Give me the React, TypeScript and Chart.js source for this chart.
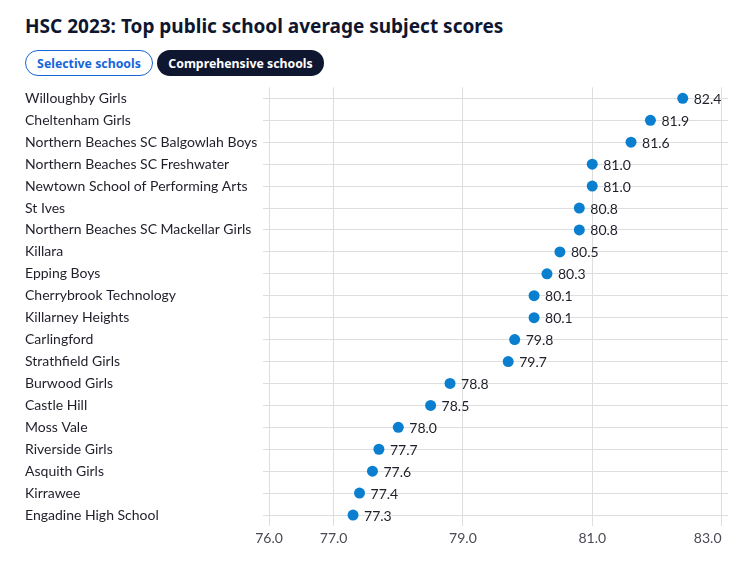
import React, { useEffect, useRef } from "react";
import { Chart, registerables } from "chart.js";

Chart.register(...registerables);

const schools = [
  "Willoughby Girls",
  "Cheltenham Girls",
  "Northern Beaches SC Balgowlah Boys",
  "Northern Beaches SC Freshwater",
  "Newtown School of Performing Arts",
  "St Ives",
  "Northern Beaches SC Mackellar Girls",
  "Killara",
  "Epping Boys",
  "Cherrybrook Technology",
  "Killarney Heights",
  "Carlingford",
  "Strathfield Girls",
  "Burwood Girls",
  "Castle Hill",
  "Moss Vale",
  "Riverside Girls",
  "Asquith Girls",
  "Kirrawee",
  "Engadine High School",
];

const scores = [
  82.4, 81.9, 81.6, 81.0, 81.0, 80.8, 80.8, 80.5, 80.3, 80.1, 80.1, 79.8, 79.7,
  78.8, 78.5, 78.0, 77.7, 77.6, 77.4, 77.3,
];

const xTicks = [76, 77, 79, 81, 83];
const xMin = 76;
const xMax = 83.1;

const LABEL_FONT = "Lato, 'Open Sans', sans-serif";

const valueLabels = {
  id: "valueLabels",
  afterDatasetsDraw(chart: any) {
    const ctx = chart.ctx;
    const meta = chart.getDatasetMeta(0);
    ctx.save();
    ctx.font = `14px ${LABEL_FONT}`;
    ctx.fillStyle = "#1f1f2a";
    ctx.textAlign = "left";
    ctx.textBaseline = "middle";
    meta.data.forEach((pt: any, i: number) => {
      ctx.fillText(scores[i].toFixed(1), pt.x + 11, pt.y + 1);
    });
    ctx.restore();
  },
};

const xLabels = {
  id: "xLabels",
  afterDraw(chart: any) {
    const ctx = chart.ctx;
    const scale = chart.scales.x;
    ctx.save();
    ctx.font = `14px ${LABEL_FONT}`;
    ctx.fillStyle = "#4a4a55";
    ctx.textBaseline = "middle";
    xTicks.forEach((v, i) => {
      const px = scale.getPixelForValue(v);
      ctx.textAlign = i === xTicks.length - 1 ? "right" : "center";
      ctx.fillText(v.toFixed(1), px, chart.chartArea.bottom + 12);
    });
    ctx.restore();
  },
};

function DotChart() {
  const ref = useRef<HTMLCanvasElement>(null);
  useEffect(() => {
    if (!ref.current) return;
    const chart = new Chart(ref.current, {
      type: "line",
      data: {
        labels: schools,
        datasets: [
          {
            data: scores,
            showLine: false,
            pointRadius: 5.5,
            pointHoverRadius: 5.5,
            pointBackgroundColor: "#0a7fd0",
            pointBorderWidth: 0,
            borderColor: "#0a7fd0",
          },
        ],
      },
      options: {
        indexAxis: "y",
        animation: false,
        responsive: true,
        maintainAspectRatio: false,
        layout: { padding: { left: 17, right: 19, top: 7, bottom: 0 } },
        plugins: { legend: { display: false }, tooltip: { enabled: false } },
        scales: {
          x: {
            type: "linear",
            min: xMin,
            max: xMax,
            afterBuildTicks: (scale: any) => {
              scale.ticks = xTicks.map((v) => ({ value: v }));
            },
            afterFit: (scale: any) => {
              scale.height = 28;
            },
            ticks: { display: false },
            grid: { color: "#dedede", drawTicks: false, lineWidth: 1 },
            border: { display: false },
          },
          y: {
            type: "category",
            offset: true,
            afterFit: (scale: any) => {
              scale.width = 244;
            },
            grid: { color: "#dedede", offset: false, tickLength: 6, drawTicks: true },
            border: { display: false },
            ticks: {
              crossAlign: "far",
              color: "#1f1f2a",
              font: { family: LABEL_FONT, size: 14 },
              padding: 6,
              autoSkip: false,
            },
          },
        },
      },
      plugins: [valueLabels, xLabels],
    });
    return () => chart.destroy();
  }, []);
  return <canvas ref={ref} />;
}

export default function App() {
  const btnBase: React.CSSProperties = {
    position: "absolute",
    top: 0,
    height: 26,
    boxSizing: "border-box",
    borderRadius: 14,
    fontFamily: "'Noto Sans', sans-serif",
    fontWeight: 700,
    fontSize: 12.3,
    display: "flex",
    alignItems: "center",
    justifyContent: "center",
  };
  return (
    <div style={{ position: "relative", width: 739, height: 556 }}>
      <div
        style={{
          position: "absolute",
          top: 6,
          left: 17,
          fontFamily: "'Noto Sans', sans-serif",
          fontWeight: 700,
          fontSize: 19,
          lineHeight: "24px",
          color: "#0e1630",
          whiteSpace: "nowrap",
        }}
      >
        HSC 2023: Top public school average subject scores
      </div>
      <div style={{ position: "absolute", top: 42, left: 17, width: 320, height: 26 }}>
        <div
          style={{
            ...btnBase,
            left: 0,
            width: 128,
            border: "1px solid #1466d8",
            color: "#1466d8",
            background: "#fff",
          }}
        >
          Selective schools
        </div>
        <div
          style={{
            ...btnBase,
            left: 132,
            width: 167,
            background: "#0e1630",
            color: "#fff",
          }}
        >
          Comprehensive schools
        </div>
      </div>
      <div style={{ position: "absolute", top: 65, left: 0, width: 739, height: 481 }}>
        <DotChart />
      </div>
    </div>
  );
}
